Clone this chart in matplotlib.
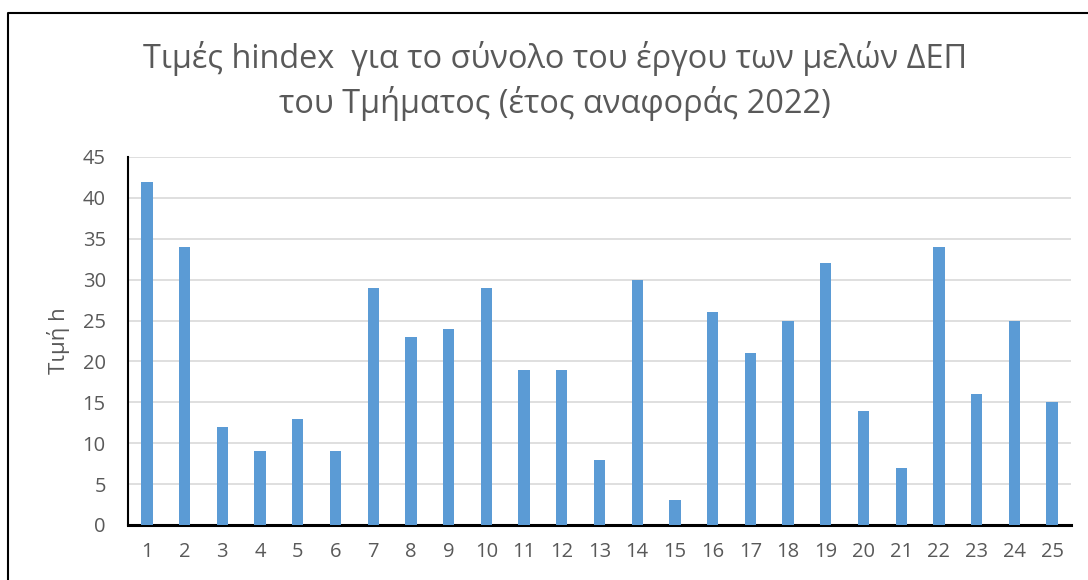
import matplotlib
matplotlib.use("Agg")
import matplotlib.pyplot as plt
from matplotlib.lines import Line2D

categories = [str(i) for i in range(1, 26)]
values = [42, 34, 12, 9, 13, 9, 29, 23, 24, 29, 19, 19, 8, 30, 3, 26, 21, 25, 32, 14, 7, 34, 16, 25, 15]
yticks = [0, 5, 10, 15, 20, 25, 30, 35, 40, 45]
title = "Τιμές hindex  για το σύνολο του έργου των μελών ΔΕΠ\nτου Τμήματος (έτος αναφοράς 2022)"
ylabel = "Τιμή h"

plt.rcParams['font.family'] = ['Open Sans', 'DejaVu Sans']
text_color = '#595959'

fig = plt.figure(figsize=(10.88, 5.8), dpi=100)
ax = fig.add_axes([128/1088, 1-525/580, (1071-128)/1088, (525-157)/580])

x = list(range(len(categories)))
ax.bar(x, values, width=0.3, color='#5B9BD5', zorder=3)
ax.set_xlim(-0.5, len(categories) - 0.5)
ax.set_ylim(0, 45)
ax.set_yticks(yticks)
ax.set_xticks(x)
ax.set_xticklabels(categories)
ax.yaxis.grid(True, color='#D9D9D9', linewidth=1.2, zorder=0)
ax.tick_params(axis='both', length=0, labelsize=14.5, labelcolor=text_color)
ax.tick_params(axis='y', pad=16)
ax.tick_params(axis='x', pad=12)
for s in ['top', 'right']:
    ax.spines[s].set_visible(False)
ax.spines['left'].set_color('black')
ax.spines['left'].set_linewidth(1.5)
ax.spines['bottom'].set_color('black')
ax.spines['bottom'].set_linewidth(2.2)
ax.set_ylabel(ylabel, fontsize=16, color=text_color, labelpad=9)

fig.text(555/1088, 1-81/580, title, ha='center', va='center', fontsize=23.4,
         color=text_color, linespacing=1.35)

border = Line2D([7.5/1088, 7.5/1088, 1.0], [0.0, 1-12.5/580, 1-12.5/580],
                transform=fig.transFigure, color='black', linewidth=1.5)
fig.add_artist(border)

fig.savefig('out.png', dpi=100, facecolor='white')
